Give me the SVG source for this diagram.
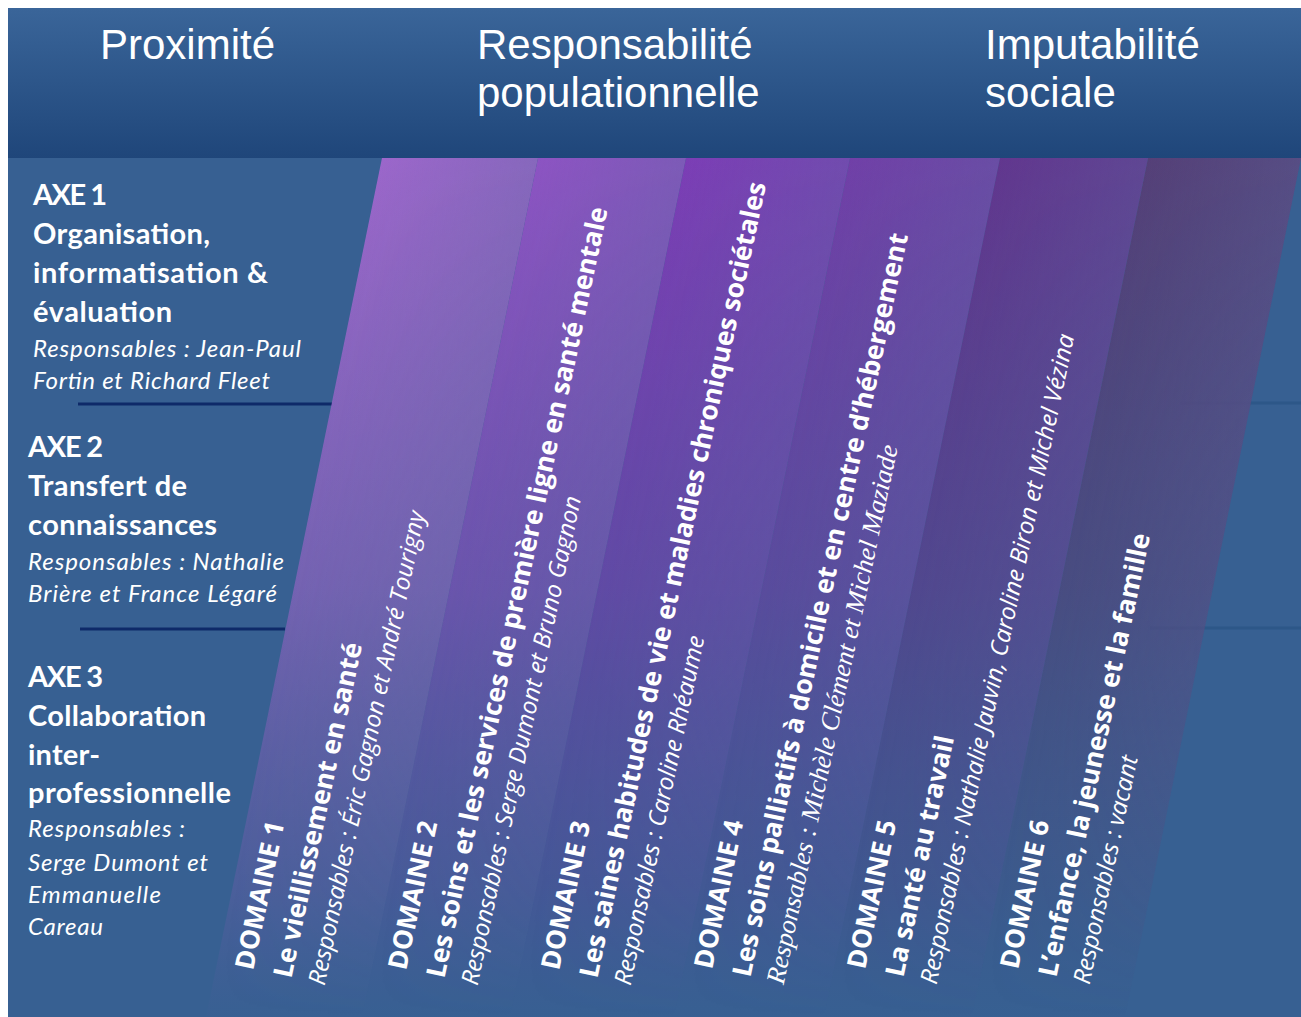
<svg xmlns="http://www.w3.org/2000/svg" width="1301" height="1017" viewBox="0 0 1301 1017">
<style>
.hd{font-family:"Liberation Sans",Arial,sans-serif;font-size:42px;fill:#ffffff}
.ax{font-family:Lato,"Liberation Sans",sans-serif;font-weight:bold;font-size:29px;fill:#ffffff}
.axi{font-family:Lato,"Liberation Sans",sans-serif;font-style:italic;font-size:24px;fill:#ffffff}
.dm{font-family:"Open Sans","Noto Sans",sans-serif;font-weight:bold;font-size:26.5px;fill:#ffffff}
.dr{font-family:"Open Sans","Noto Sans",sans-serif;font-style:italic;font-size:24px;fill:#ffffff}
.drs{font-family:"Liberation Serif","Times New Roman",serif;font-style:italic;font-size:26.5px;fill:#ffffff}
.sep{stroke:#0e2a69;stroke-width:3}
.faint{stroke:#2d5788;stroke-width:3}
.sheen-stop0{stop-color:#5a6a9e;stop-opacity:0}
.sheen-stop1{stop-color:#5a6a9e;stop-opacity:0.32}
</style>
<defs>
<linearGradient id="hdr" x1="0" y1="8" x2="0" y2="158" gradientUnits="userSpaceOnUse">
<stop offset="0" stop-color="#3a6599"/><stop offset="1" stop-color="#1f467a"/>
</linearGradient>
<linearGradient id="g1" x1="0" y1="158" x2="0" y2="1017" gradientUnits="userSpaceOnUse">
<stop offset="0" stop-color="#9c67cb"/><stop offset="0.5" stop-color="#8f64c0" stop-opacity="0.7"/><stop offset="0.85" stop-color="#7a5cb0" stop-opacity="0.3"/><stop offset="1" stop-color="#6a5aa8" stop-opacity="0.02"/>
</linearGradient>
<linearGradient id="g2" x1="0" y1="158" x2="0" y2="1017" gradientUnits="userSpaceOnUse">
<stop offset="0" stop-color="#8d54c3"/><stop offset="0.5" stop-color="#8050b8" stop-opacity="0.7"/><stop offset="0.85" stop-color="#6c4fa8" stop-opacity="0.3"/><stop offset="1" stop-color="#5d50a0" stop-opacity="0.02"/>
</linearGradient>
<linearGradient id="g3" x1="0" y1="158" x2="0" y2="1017" gradientUnits="userSpaceOnUse">
<stop offset="0" stop-color="#7c3eb6"/><stop offset="0.5" stop-color="#7241ad" stop-opacity="0.7"/><stop offset="0.85" stop-color="#6444a2" stop-opacity="0.3"/><stop offset="1" stop-color="#58489a" stop-opacity="0.02"/>
</linearGradient>
<linearGradient id="g4" x1="0" y1="158" x2="0" y2="1017" gradientUnits="userSpaceOnUse">
<stop offset="0" stop-color="#7140a8"/><stop offset="0.5" stop-color="#6843a2" stop-opacity="0.7"/><stop offset="0.85" stop-color="#5a4698" stop-opacity="0.3"/><stop offset="1" stop-color="#504a94" stop-opacity="0.02"/>
</linearGradient>
<linearGradient id="g5" x1="0" y1="158" x2="0" y2="1017" gradientUnits="userSpaceOnUse">
<stop offset="0" stop-color="#62378f"/><stop offset="0.5" stop-color="#5c3d8d" stop-opacity="0.7"/><stop offset="0.85" stop-color="#52438a" stop-opacity="0.3"/><stop offset="1" stop-color="#4a4888" stop-opacity="0.02"/>
</linearGradient>
<linearGradient id="g6" x1="0" y1="158" x2="0" y2="1017" gradientUnits="userSpaceOnUse">
<stop offset="0" stop-color="#554078"/><stop offset="0.5" stop-color="#4e467c" stop-opacity="0.75"/><stop offset="0.85" stop-color="#474c80" stop-opacity="0.3"/><stop offset="1" stop-color="#404f84" stop-opacity="0.02"/>
</linearGradient>
<linearGradient id="s1" x1="414" y1="0" x2="570" y2="0" gradientUnits="userSpaceOnUse" gradientTransform="skewX(-11.58)"><stop offset="0" class="sheen-stop0"/><stop offset="1" class="sheen-stop1"/></linearGradient>
<linearGradient id="s2" x1="570" y1="0" x2="718" y2="0" gradientUnits="userSpaceOnUse" gradientTransform="skewX(-11.58)"><stop offset="0" class="sheen-stop0"/><stop offset="1" class="sheen-stop1"/></linearGradient>
<linearGradient id="s3" x1="718" y1="0" x2="882" y2="0" gradientUnits="userSpaceOnUse" gradientTransform="skewX(-11.58)"><stop offset="0" class="sheen-stop0"/><stop offset="1" class="sheen-stop1"/></linearGradient>
<linearGradient id="s4" x1="882" y1="0" x2="1032" y2="0" gradientUnits="userSpaceOnUse" gradientTransform="skewX(-11.58)"><stop offset="0" class="sheen-stop0"/><stop offset="1" class="sheen-stop1"/></linearGradient>
<linearGradient id="s5" x1="1032" y1="0" x2="1180" y2="0" gradientUnits="userSpaceOnUse" gradientTransform="skewX(-11.58)"><stop offset="0" class="sheen-stop0"/><stop offset="1" class="sheen-stop1"/></linearGradient>
<linearGradient id="s6" x1="1180" y1="0" x2="1333" y2="0" gradientUnits="userSpaceOnUse" gradientTransform="skewX(-11.58)"><stop offset="0" class="sheen-stop0"/><stop offset="1" class="sheen-stop1"/></linearGradient>
<linearGradient id="fadeg" x1="0" y1="158" x2="0" y2="1017" gradientUnits="userSpaceOnUse">
<stop offset="0" stop-color="#ffffff"/><stop offset="0.6" stop-color="#999999"/><stop offset="1" stop-color="#000000"/>
</linearGradient>
<mask id="fade" maskUnits="userSpaceOnUse" x="0" y="0" width="1301" height="1017">
<rect x="0" y="158" width="1301" height="859" fill="url(#fadeg)"/>
</mask>
</defs>

<rect x="0" y="0" width="1301" height="1017" fill="#ffffff"/>
<rect x="8" y="158" width="1293" height="859" fill="#376092"/>

<g id="header">
<rect x="8" y="8" width="1293" height="150" fill="url(#hdr)"/>
<text class="hd" x="100" y="59">Proximité</text>
<text class="hd" x="477" y="59">Responsabilité</text>
<text class="hd" x="477" y="107">populationnelle</text>
<text class="hd" x="985" y="59">Imputabilité</text>
<text class="hd" x="985" y="107">sociale</text>
</g>

<g id="separators">
<line class="sep" x1="78" y1="404" x2="332" y2="404"/>
<line class="sep" x1="80" y1="629" x2="285" y2="629"/>
<line class="faint" x1="1180" y1="403" x2="1301" y2="403"/>
<line class="faint" x1="1150" y1="628" x2="1301" y2="628"/>
</g>

<g id="bands">
<polygon points="382,158 538,158 362,1017 206,1017" fill="url(#g1)"/>
<polygon points="538,158 686,158 510,1017 362,1017" fill="url(#g2)"/>
<polygon points="686,158 850,158 674,1017 510,1017" fill="url(#g3)"/>
<polygon points="850,158 1000,158 824,1017 674,1017" fill="url(#g4)"/>
<polygon points="1000,158 1148,158 972,1017 824,1017" fill="url(#g5)"/>
<polygon points="1148,158 1301,158 1125,1017 972,1017" fill="url(#g6)"/>
<g mask="url(#fade)">
<polygon points="382,158 538,158 362,1017 206,1017" fill="url(#s1)"/>
<polygon points="538,158 686,158 510,1017 362,1017" fill="url(#s2)"/>
<polygon points="686,158 850,158 674,1017 510,1017" fill="url(#s3)"/>
<polygon points="850,158 1000,158 824,1017 674,1017" fill="url(#s4)"/>
<polygon points="1000,158 1148,158 972,1017 824,1017" fill="url(#s5)"/>
<polygon points="1148,158 1301,158 1125,1017 972,1017" fill="url(#s6)"/>
</g>
</g>

<g id="axe-1">
<text class="ax" x="33" y="205" textLength="74">AXE 1</text>
<text class="ax" x="33" y="244" textLength="177">Organisation,</text>
<text class="ax" x="33" y="283" textLength="235">informatisation &amp;</text>
<text class="ax" x="33" y="322" textLength="139">évaluation</text>
<text class="axi" x="33" y="357" textLength="268">Responsables : Jean-Paul</text>
<text class="axi" x="33" y="389" textLength="237">Fortin et Richard Fleet</text>
</g>

<g id="axe-2">
<text class="ax" x="28" y="457" textLength="75">AXE 2</text>
<text class="ax" x="28" y="496" textLength="159">Transfert de</text>
<text class="ax" x="28" y="535" textLength="189">connaissances</text>
<text class="axi" x="28" y="570" textLength="256">Responsables : Nathalie</text>
<text class="axi" x="28" y="602" textLength="249">Brière et France Légaré</text>
</g>

<g id="axe-3">
<text class="ax" x="28" y="687" textLength="75">AXE 3</text>
<text class="ax" x="28" y="726" textLength="178">Collaboration</text>
<text class="ax" x="28" y="765" textLength="72">inter-</text>
<text class="ax" x="28" y="803" textLength="203">professionnelle</text>
<text class="axi" x="28" y="837" textLength="157">Responsables :</text>
<text class="axi" x="28" y="871" textLength="180">Serge Dumont et</text>
<text class="axi" x="28" y="903" textLength="133">Emmanuelle</text>
<text class="axi" x="28" y="935" textLength="75">Careau</text>
</g>

<g id="domaine-1" transform="translate(253,971) rotate(-78)">
<text class="dm" x="0" y="0">DOMAINE 1</text>
<text class="dm" x="0" y="39">Le vieillissement en santé</text>
<text class="dr" x="0" y="73">Responsables : Éric Gagnon et André Tourigny</text>
</g>

<g id="domaine-2" transform="translate(406,971) rotate(-78)">
<text class="dm" x="0" y="0">DOMAINE 2</text>
<text class="dm" x="0" y="39">Les soins et les services de première ligne en santé mentale</text>
<text class="dr" x="0" y="73">Responsables : Serge Dumont et Bruno Gagnon</text>
</g>

<g id="domaine-3" transform="translate(559,971) rotate(-78)">
<text class="dm" x="0" y="0">DOMAINE 3</text>
<text class="dm" x="0" y="39">Les saines habitudes de vie et maladies chroniques sociétales</text>
<text class="dr" x="0" y="73">Responsables : Caroline Rhéaume</text>
</g>

<g id="domaine-4" transform="translate(712,970) rotate(-78)">
<text class="dm" x="0" y="0">DOMAINE 4</text>
<text class="dm" x="0" y="39">Les soins palliatifs à domicile et en centre d’hébergement</text>
<text class="drs" x="0" y="73">Responsables : Michèle Clément et Michel Maziade</text>
</g>

<g id="domaine-5" transform="translate(865,970) rotate(-78)">
<text class="dm" x="0" y="0">DOMAINE 5</text>
<text class="dm" x="0" y="39">La santé au travail</text>
<text class="dr" x="0" y="73">Responsables : Nathalie Jauvin, Caroline Biron et Michel Vézina</text>
</g>

<g id="domaine-6" transform="translate(1018,970) rotate(-78)">
<text class="dm" x="0" y="0">DOMAINE 6</text>
<text class="dm" x="0" y="39">L’enfance, la jeunesse et la famille</text>
<text class="dr" x="0" y="73">Responsables : vacant</text>
</g>
</svg>
